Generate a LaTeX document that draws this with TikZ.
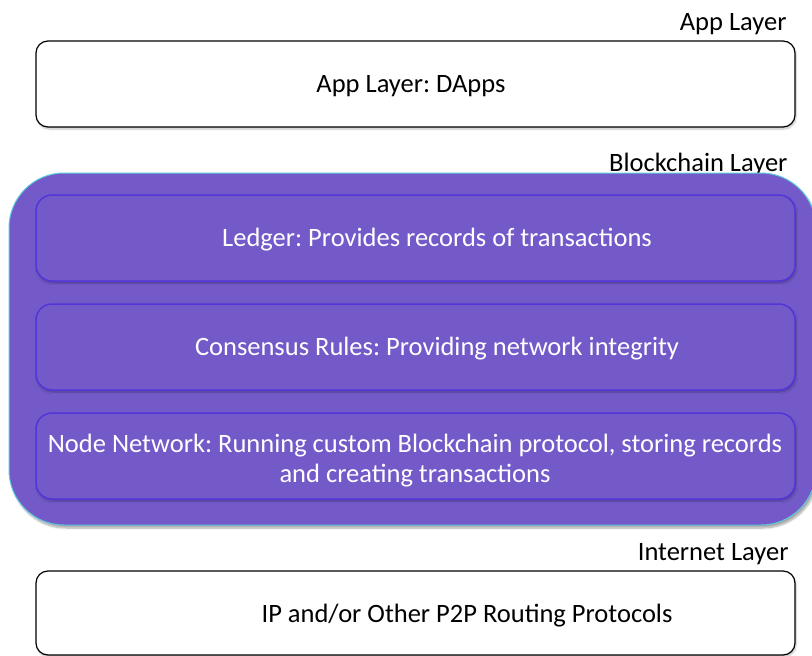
\documentclass[tikz,border=0pt]{standalone}
\usepackage{fontspec}
\setmainfont{Carlito}
\usetikzlibrary{shadows,shadows.blur}
\definecolor{chainfill}{HTML}{7459C9}
\definecolor{chainedge}{HTML}{5CC8DC}
\definecolor{layeredge}{HTML}{5236D8}
\tikzset{
  whitebox/.style={draw=black, line width=1.2pt, fill=white, rounded corners=12pt,
    blur shadow={shadow xshift=1pt, shadow yshift=-2pt, shadow blur steps=6, shadow opacity=25}},
  chainbox/.style={draw=chainedge, line width=1pt, fill=chainfill, rounded corners=55pt,
    blur shadow={shadow xshift=2pt, shadow yshift=-3pt, shadow blur steps=8, shadow opacity=35}},
  layerbox/.style={draw=layeredge, line width=1.5pt, fill=chainfill, rounded corners=16pt,
    blur shadow={shadow xshift=1pt, shadow yshift=-2pt, shadow blur steps=6, shadow opacity=30}},
  title/.style={anchor=east, font=\fontsize{26.5}{30}\selectfont, text=black},
  boxtext/.style={font=\fontsize{26.5}{30}\selectfont, align=center},
}
\frenchspacing
\begin{document}
\begin{tikzpicture}[x=1pt, y=-1pt]
  \useasboundingbox (0,0) rectangle (812,656);

  % application layer
  \node[title] (apptitle) at (790,24) {App Layer};
  \draw[whitebox] (36,41) rectangle (795,127);
  \node[boxtext, text=black] (app) at (411,86) {App Layer: DApps};

  % blockchain layer and its three sub-layers
  \node[title] (chaintitle) at (791,164) {Blockchain Layer};
  \draw[chainbox] (9,173) rectangle (816,525);
  \draw[layerbox] (36,195) rectangle (795,281);
  \draw[layerbox] (36,304) rectangle (795,390);
  \draw[layerbox] (36,413) rectangle (795,499);
  \node[boxtext, text=white] (ledger) at (437,240) {Ledger: Provides records of transactions};
  \node[boxtext, text=white] (consensus) at (437,349) {Consensus Rules: Providing network integrity};
  \node[boxtext, text=white] (nodenet) at (415,461) {Node Network: Running custom Blockchain protocol, storing records\\and creating transactions};

  % internet layer
  \node[title] (nettitle) at (792,554) {Internet Layer};
  \draw[whitebox] (36,571) rectangle (795,655);
  \node[boxtext, text=black] (net) at (467,616) {IP and/or Other P2P Routing Protocols};
\end{tikzpicture}
\end{document}
